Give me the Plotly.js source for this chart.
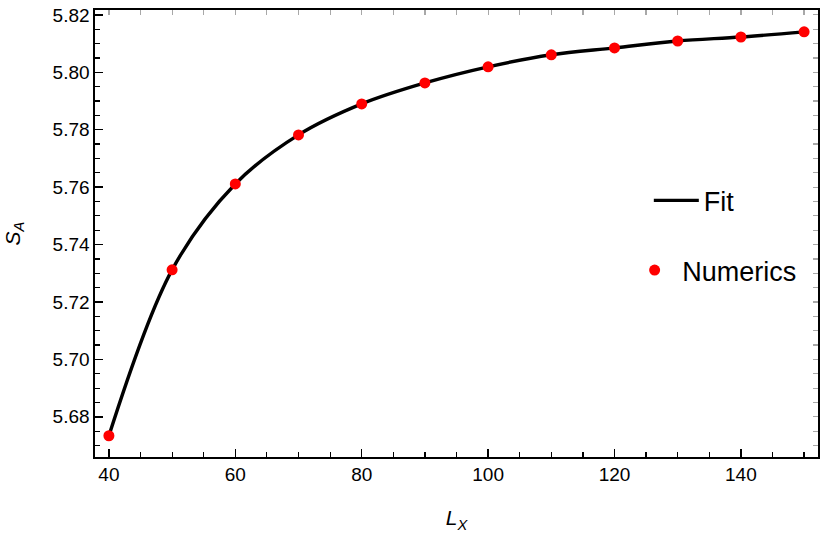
<!DOCTYPE html>
<html>
<head>
<meta charset="utf-8">
<script src="https://cdn.plot.ly/plotly-3.0.1.min.js"></script>
<style>
  body { margin: 0; background: #fff; }
  #plot { width: 830px; height: 540px; }
</style>
</head>
<body>
<div id="plot"></div>
<script>
// system size L_x and the entropy S_A
var lx = [40, 50, 60, 70, 80, 90, 100, 110, 120, 130, 140, 150];
var sA = [5.6734, 5.7312, 5.7611, 5.7782, 5.7890, 5.7963, 5.8019, 5.8061, 5.8085, 5.8109, 5.8123, 5.8141];

var xTicks = [40, 60, 80, 100, 120, 140];
var yTicks = [5.68, 5.70, 5.72, 5.74, 5.76, 5.78, 5.80, 5.82];

var fitName = "Fit";
var numName = "Numerics";

var xRange = [37.8, 152.2];
var yRange = [5.666, 5.8217];

var font = "Liberation Sans, Arial, sans-serif";

var data = [
  {
    x: lx,
    y: sA,
    mode: "lines",
    name: fitName,
    line: { color: "black", width: 3.4, shape: "spline", smoothing: 1.0 },
    legend: "legend",
  },
  {
    x: lx,
    y: sA,
    mode: "markers",
    name: numName,
    marker: { color: "#ff0000", size: 11 },
    legend: "legend2",
  },
  // empty-looking trace so the top/right tick axes get drawn
  {
    x: lx,
    y: sA,
    xaxis: "x2",
    yaxis: "y2",
    mode: "markers",
    marker: { opacity: 0 },
    showlegend: false,
    hoverinfo: "skip",
  },
];

var axisCommon = {
  showgrid: false,
  zeroline: false,
  showline: true,
  linecolor: "black",
  linewidth: 1.6,
  mirror: true,
  ticks: "inside",
  ticklen: 8,
  tickwidth: 1.5,
  tickcolor: "black",
  tickfont: { family: font, size: 19, color: "black" },
};

// lighter ticks on the top and right edges of the frame
var mirrorCommon = {
  showgrid: false,
  zeroline: false,
  showline: false,
  showticklabels: false,
  ticks: "inside",
  ticklen: 5,
  tickwidth: 1.2,
  tickcolor: "#a8a8a8",
};

var legendCommon = {
  xanchor: "left",
  yanchor: "top",
  bgcolor: "rgba(0,0,0,0)",
  font: { family: font, size: 27, color: "black" },
  itemwidth: 45,
};

var layout = {
  width: 830,
  height: 540,
  margin: { l: 95, r: 12, t: 10, b: 83 },
  paper_bgcolor: "white",
  plot_bgcolor: "white",
  font: { family: font, color: "black" },
  xaxis: Object.assign({}, axisCommon, {
    range: xRange,
    tickvals: xTicks,
    minor: { dtick: 5, tick0: 0, ticks: "inside", ticklen: 5, tickwidth: 1.2, tickcolor: "black" },
    title: { text: "<i>L</i><sub><i>X</i></sub>", font: { family: font, size: 21 }, standoff: 26 },
  }),
  yaxis: Object.assign({}, axisCommon, {
    range: yRange,
    tickvals: yTicks,
    tickformat: ".2f",
    minor: { dtick: 0.005, tick0: 5.68, ticks: "inside", ticklen: 5, tickwidth: 1.2, tickcolor: "black" },
    title: { text: "<i>S</i><sub><i>A</i></sub>", font: { family: font, size: 21 }, standoff: 26 },
  }),
  xaxis2: Object.assign({}, mirrorCommon, {
    overlaying: "x",
    side: "top",
    range: xRange,
    dtick: 5,
    tick0: 0,
  }),
  yaxis2: Object.assign({}, mirrorCommon, {
    overlaying: "y",
    side: "right",
    range: yRange,
    dtick: 0.005,
    tick0: 5.68,
  }),
  showlegend: true,
  legend: Object.assign({}, legendCommon, { x: 0.766, y: 0.628 }),
  legend2: Object.assign({}, legendCommon, { x: 0.736, y: 0.472 }),
};

Plotly.newPlot("plot", data, layout, { displayModeBar: false, staticPlot: true });
</script>
</body>
</html>
